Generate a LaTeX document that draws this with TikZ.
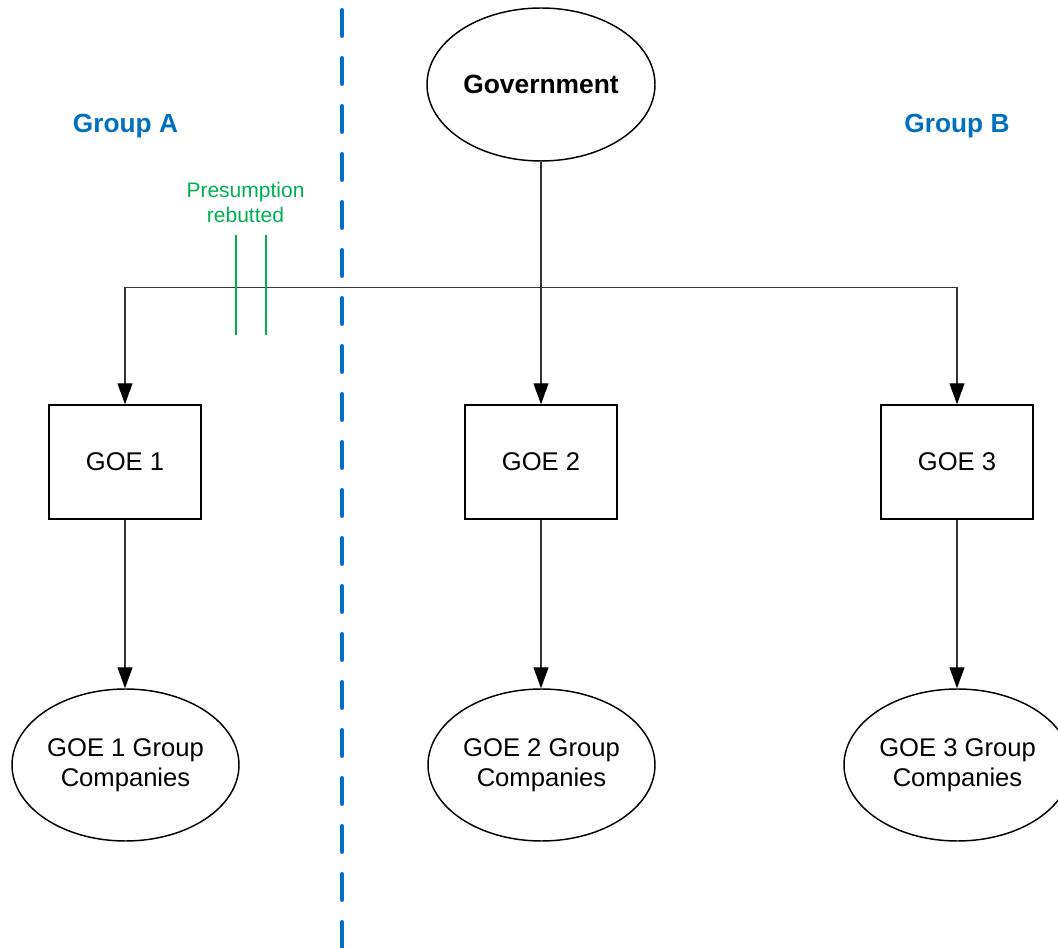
\documentclass[tikz,border=0pt]{standalone}
\usepackage{fontspec}
\setmainfont{Liberation Sans}
\usetikzlibrary{shapes.geometric,arrows.meta}
\definecolor{grpblue}{HTML}{0070C0}
\definecolor{rebgreen}{HTML}{00B050}
\tikzset{
  every node/.style={font=\fontsize{19.2}{22.5}\selectfont},
  oval/.style={ellipse, draw, line width=1.1pt, inner sep=0pt, align=center},
  entity/.style={rectangle, draw, line width=1.1pt, inner sep=0pt,
    minimum width=114pt, minimum height=85.5pt},
  conn/.style={draw=black!80, line width=0.8pt},
  arr/.style={conn, -{Triangle[length=15.75pt,width=11.25pt,color=black]}},
  grouplabel/.style={text=grpblue, font=\fontsize{19.7}{23}\selectfont\bfseries},
  divider/.style={draw=grpblue, line width=3pt, line cap=round,
    dash pattern=on 19.5pt off 16.5pt},
  rebut/.style={draw=rebgreen, line width=1.5pt}
}
\begin{document}
\begin{tikzpicture}[x=0.75pt, y=-0.75pt]
\useasboundingbox (0,0) rectangle (1058,948);

% divider between the two groups
\coordinate (divtop) at (342,10);
\coordinate (divbot) at (342,960);
\draw[divider] (divtop) -- (divbot);

% group captions
\node[grouplabel] (grpA) at (125.5,126) {Group A};
\node[grouplabel] (grpB) at (957,126) {Group B};

% top owner
\node[oval, minimum width=171pt, minimum height=114.75pt,
      font=\fontsize{19.8}{23}\selectfont\bfseries] (gov) at (541,84.5) {Government};

% government-owned entities
\node[entity] (goe1) at (125,462) {GOE 1};
\node[entity] (goe2) at (541,462) {GOE 2};
\node[entity] (goe3) at (957,462) {GOE 3};

% their group companies
\node[oval, minimum width=170.25pt, minimum height=114pt] (gc1) at (125.5,765) {GOE 1 Group\\Companies};
\node[oval, minimum width=170.25pt, minimum height=114pt] (gc2) at (541.5,765) {GOE 2 Group\\Companies};
\node[oval, minimum width=170.25pt, minimum height=114pt] (gc3) at (957.5,765) {GOE 3 Group\\Companies};

% ownership bus and branches
\coordinate (bus) at (541,287.5);
\draw[conn] (bus -| goe1.north) -- (bus -| goe3.north);
\draw[arr] (gov.south) -- (goe2.north);
\draw[arr] (bus -| goe1.north) -- (goe1.north);
\draw[arr] (bus -| goe3.north) -- (goe3.north);

\draw[arr] (goe1.south) -- (gc1.north -| goe1.south);
\draw[arr] (goe2.south) -- (gc2.north -| goe2.south);
\draw[arr] (goe3.south) -- (gc3.north -| goe3.south);

% break in the link to GOE 1
\coordinate (rb1top) at (236,235);
\coordinate (rb1bot) at (236,335);
\coordinate (rb2top) at (266,235);
\coordinate (rb2bot) at (266,335);
\draw[rebut] (rb1top) -- (rb1bot);
\draw[rebut] (rb2top) -- (rb2bot);
\node[text=rebgreen, align=center, font=\fontsize{15.75}{18.75}\selectfont]
  (rebnote) at (245.5,202.5) {Presumption\\rebutted};
\end{tikzpicture}
\end{document}
